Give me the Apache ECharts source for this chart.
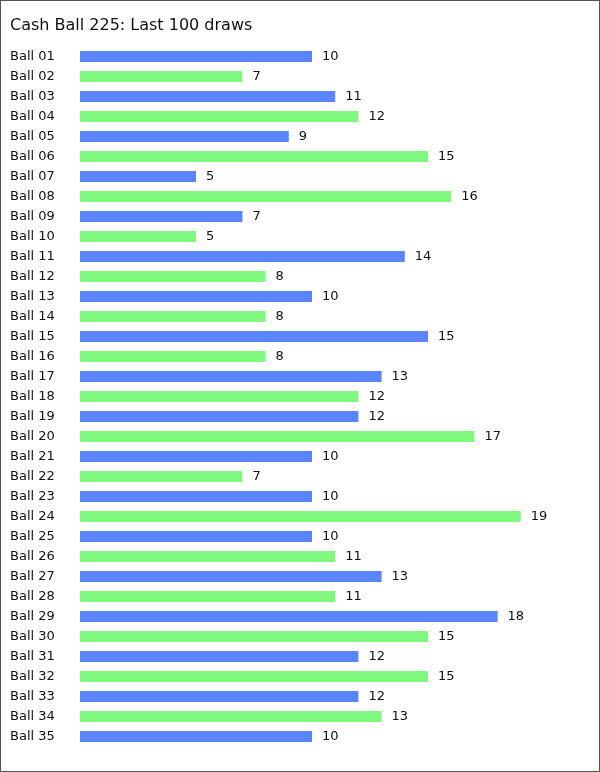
<!DOCTYPE html>
<html>
<head>
<meta charset="utf-8">
<script src="https://cdn.jsdelivr.net/npm/echarts@6/dist/echarts.min.js"></script>
<style>
html,body{margin:0;padding:0;background:#fff;}
#c{width:600px;height:772px;box-sizing:border-box;border:1px solid #555;}
</style>
</head>
<body>
<div id="c"></div>
<script>
const categories = ['Ball 01','Ball 02','Ball 03','Ball 04','Ball 05','Ball 06','Ball 07','Ball 08','Ball 09','Ball 10',
'Ball 11','Ball 12','Ball 13','Ball 14','Ball 15','Ball 16','Ball 17','Ball 18','Ball 19','Ball 20',
'Ball 21','Ball 22','Ball 23','Ball 24','Ball 25','Ball 26','Ball 27','Ball 28','Ball 29','Ball 30',
'Ball 31','Ball 32','Ball 33','Ball 34','Ball 35'];
const counts = [10,7,11,12,9,15,5,16,7,5,14,8,10,8,15,8,13,12,12,17,10,7,10,19,10,11,13,11,18,15,12,15,12,13,10];
const colors = ['#5a85f8','#80f880'];
const chart = echarts.init(document.getElementById('c'));
chart.setOption({
  animation:false,
  title:{text:'Cash Ball 225: Last 100 draws',left:4,top:12,textStyle:{fontFamily:'DejaVu Sans',fontSize:16,fontWeight:'normal',color:'#111'}},
  grid:{left:79,top:45.5,height:700,width:510.4,containLabel:false},
  xAxis:{type:'value',min:0,max:22,show:false},
  yAxis:{type:'category',data:categories,inverse:true,axisLine:{show:false},axisTick:{show:false},
    axisLabel:{align:'left',margin:70,fontFamily:'DejaVu Sans',fontSize:13,color:'#111'}},
  series:[{type:'bar',data:counts,barWidth:11,
    itemStyle:{color:p=>colors[p.dataIndex%2]},
    label:{show:true,position:'right',distance:10,fontFamily:'DejaVu Sans',fontSize:13,color:'#111'}}]
});
</script>
</body>
</html>
